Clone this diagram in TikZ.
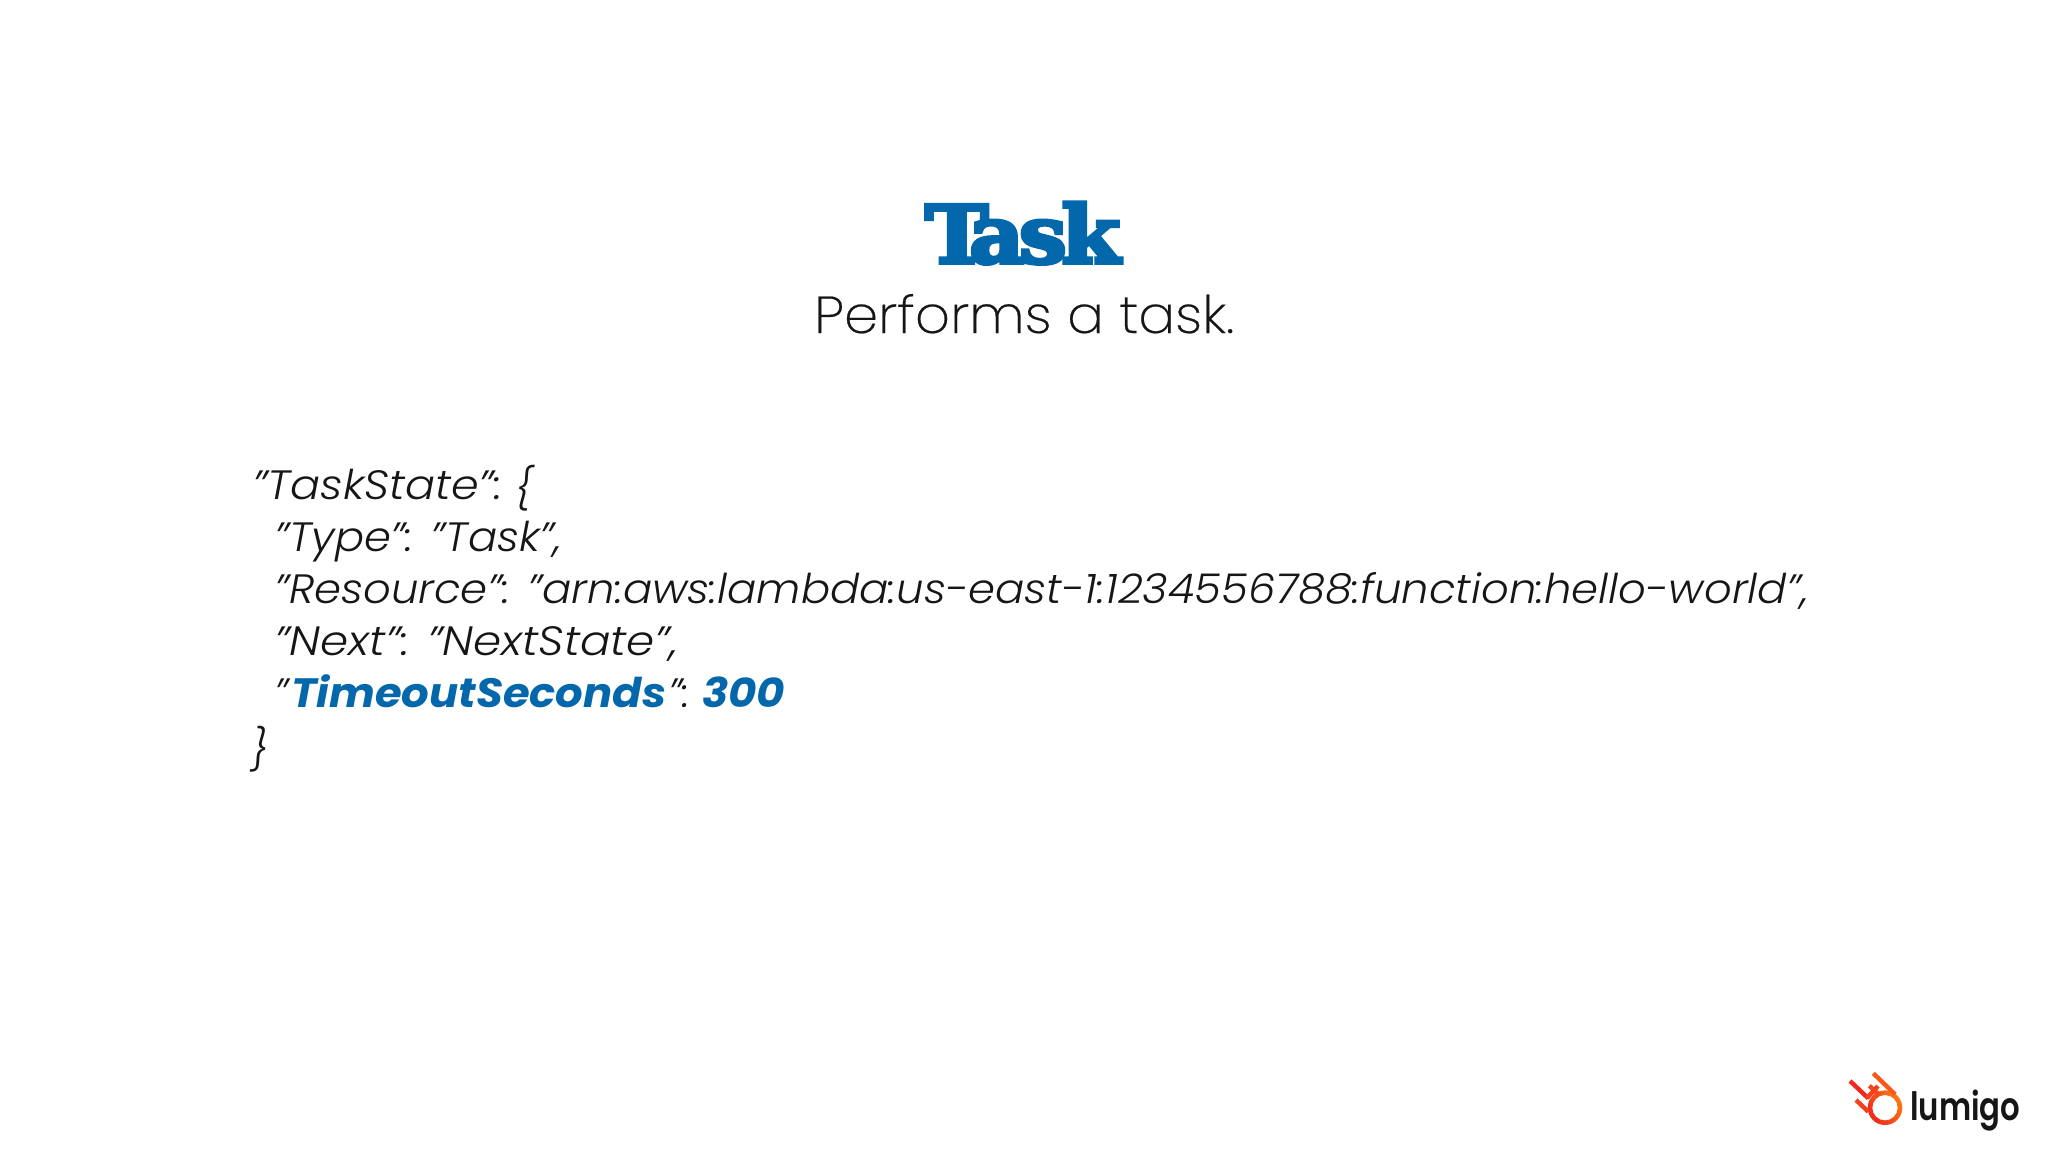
\documentclass[tikz,border=0pt]{standalone}
\usepackage{fontspec}
\usepackage{graphicx}
\setmainfont{Poppins}[UprightFont=* Light,ItalicFont=* Light Italic,BoldFont=* Bold,BoldItalicFont=* Bold Italic]
\newfontfamily\subfont{Poppins ExtraLight}[FakeBold=0.4]
\newfontfamily\logofont{Poppins SemiBold}
\newfontfamily\slabfont{DejaVu Serif}[BoldFont=* Bold,BoldFeatures={FakeBold=4.6}]
\definecolor{blueink}{HTML}{0367AB}
\definecolor{inkc}{HTML}{161616}
\definecolor{flamered}{HTML}{F0281E}
\definecolor{flameorange}{HTML}{FF7A14}
\newcommand{\fitw}[2]{\resizebox{#1pt}{\height}{#2}}
\tikzset{
  codeline/.style={anchor=base west,inner sep=0pt,text=inkc,font=\fontsize{41}{41}\selectfont\itshape},
  flame/.style={line width=4.4pt,line cap=butt},
}
\begin{document}
\begin{tikzpicture}[x=1pt,y=-1pt]
\useasboundingbox (0,0) rectangle (2048,1152);
\fill[white] (0,0) rectangle (2048,1152);
% title
\node[anchor=base west,inner sep=0pt,text=blueink] (title) at (925,263)
  {\fitw{195}{\fontsize{80}{80}\selectfont\slabfont\bfseries T\kern-18pt a\kern-5pt s\kern-5pt k}};
\node[anchor=base west,inner sep=0pt,text=inkc] (sub) at (814,333)
  {\fitw{420}{\fontsize{52}{52}\selectfont\subfont Performs a task.}};
% code
\node[codeline] (l1) at (252,499) {\fitw{250}{"TaskState":}};
\node[codeline] (l1b) at (515,503) {\fitw{17}{\{}};
\node[codeline] (l2) at (274,551) {\fitw{288}{"Type": "Task",}};
\node[codeline] (l3) at (274,603) {\fitw{1535}{"Resource": "arn:aws:lambda:us-east-1:1234556788:function:hello-world",}};
\node[codeline] (l4) at (274,655) {\fitw{404}{"Next": "NextState",}};
\node[codeline] (l5a) at (274,707) {"};
\node[codeline,text=blueink] (l5b) at (291,707) {\fitw{375}{\bfseries TimeoutSeconds}};
\node[codeline] (l5c) at (668,707) {":};
\node[codeline,text=blueink] (l5d) at (702,707) {\fitw{83}{\bfseries 300}};
\node[codeline] (l6) at (251,764) {\}};
% logo
\shade[left color=flamered,right color=flameorange,shading angle=125,
    even odd rule] (1885,1107.7) circle (17.3) (1885,1107.7) circle (12.7);
\draw[flame,flamered] (1850,1081) -- (1868.3,1098.3);
\draw[flame,flamered!40!flameorange] (1873.3,1073.3) -- (1895,1094.3);
\draw[flame,flamered!60!flameorange] (1869.3,1085.7) -- (1879.3,1095);
\draw[flame,flamered!70!flameorange] (1856,1100) -- (1868.3,1111.7);
\draw[flame,flamered!70!flameorange] (1867,1098) -- (1878,1086);
\node[anchor=base west,inner sep=0pt,text=inkc] (logo) at (1910,1120)
  {\fitw{110}{\fontsize{39}{39}\selectfont\logofont lumigo}};
\end{tikzpicture}
\end{document}
